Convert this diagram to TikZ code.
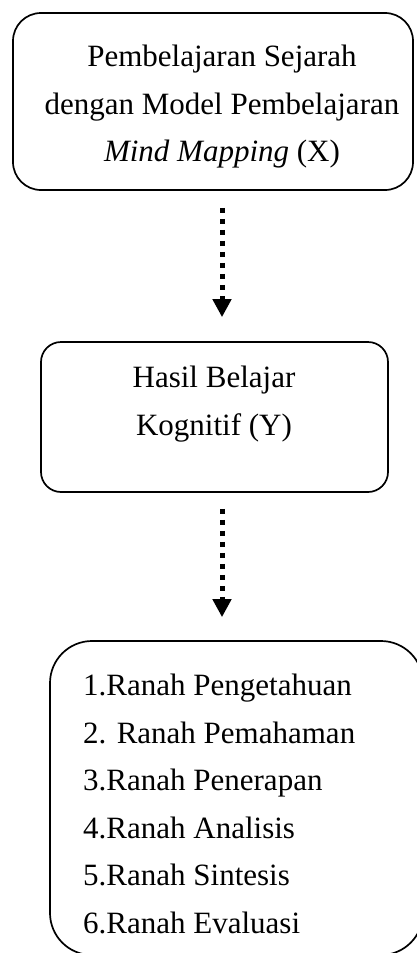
\documentclass[tikz,border=0pt]{standalone}
\usepackage{fontspec}
\setmainfont{Liberation Serif}
\usetikzlibrary{arrows.meta,calc}
\begin{document}
\begin{tikzpicture}[x=1pt,y=-1pt,
  box/.style={draw, line width=1.7pt, rounded corners=#1, inner sep=0pt},
  txt/.style={font=\fontsize{31}{47.5}\selectfont, inner sep=0pt},
  dotarrow/.style={line width=5pt, dash pattern=on 5pt off 6pt,
    -{Triangle[width=18pt,length=18pt,sep=5pt]}}]
\useasboundingbox (0,0) rectangle (417,953);
% box X
\node[box=28pt, minimum width=400pt, minimum height=177pt] (bx) at (213,101.5) {};
\node[txt, align=center, anchor=base] (tx) at (222,161.5)
  {Pembelajaran Sejarah\\ dengan Model Pembelajaran\\ \textit{Mind Mapping} (X)};
% box Y
\node[box=20pt, minimum width=347pt, minimum height=150pt] (by) at (214.5,417) {};
\node[txt, align=center, anchor=base] (ty) at (214,435) {Hasil Belajar\\ Kognitif (Y)};
% box list
\node[box=42pt, minimum width=373pt, minimum height=314pt] (bz) at (236.5,798) {};
\node[txt, align=left, anchor=base west] (tz) at (83,933)
  {1.Ranah Pengetahuan\\ 2. Ranah Pemahaman\\ 3.Ranah Penerapan\\ 4.Ranah Analisis\\ 5.Ranah Sintesis\\ 6.Ranah Evaluasi};
% arrows
\coordinate (a1s) at ($(bx.south)+(9,17)$);
\coordinate (a1e) at ($(by.north)+(7.5,-19)$);
\coordinate (a2s) at ($(by.south)+(7.5,16)$);
\coordinate (a2e) at ($(bz.north)+(-14.5,-18)$);
\draw[dotarrow] (a1s) -- (a1e);
\draw[dotarrow] (a2s) -- (a2e);
\end{tikzpicture}
\end{document}
